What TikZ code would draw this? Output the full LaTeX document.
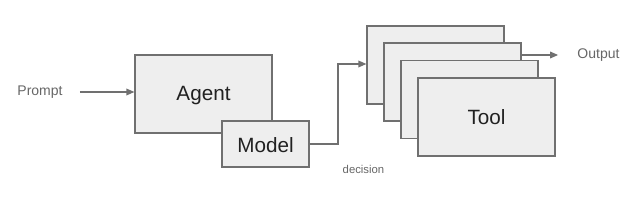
\documentclass[tikz,border=0pt]{standalone}
\usepackage{fontspec}
\setmainfont{Liberation Sans}
\usetikzlibrary{arrows.meta}
\definecolor{boxfill}{HTML}{EEEEEE}
\definecolor{boxline}{HTML}{707070}
\definecolor{lbl}{HTML}{666666}
\definecolor{dark}{HTML}{212121}
\begin{document}
\begin{tikzpicture}[x=0.75pt,y=-0.75pt,
  blk/.style={draw=boxline,fill=boxfill,line width=0.9pt,inner sep=0pt},
  toolbox/.style={blk,minimum width=137*0.75pt,minimum height=78*0.75pt},
  big/.style={text=dark,font=\fontsize{15.5}{18}\selectfont},
  small/.style={text=lbl,font=\fontsize{10.5}{13}\selectfont},
  tiny/.style={text=lbl,font=\fontsize{8.5}{10}\selectfont},
  conn/.style={draw=boxline,line width=0.9pt},
  arr/.style={conn,-{Triangle[length=6pt,width=5pt]}}]
\useasboundingbox (0,0) rectangle (642,209);
% Agent and Model
\node[toolbox] (agent) at (203.5,94) {};
\node[big] (agentt) at (203.5,96) {Agent};
\node[blk,minimum width=87*0.75pt,minimum height=46*0.75pt] (model) at (265.5,144) {};
\node[big] (modelt) at (265.5,145) {Model};
% Tool stack
\node[toolbox] (t1) at (435.5,65) {};
\node[toolbox] (t2) at (452.5,82) {};
\node[toolbox] (t3) at (469.5,99.5) {};
\node[toolbox] (t4) at (486.5,117) {};
\node[big] (toolt) at (486.5,117) {Tool};
% labels
\node[small] (prompt) at (40,92) {Prompt};
\node[small] (output) at (598.5,55) {Output};
\node[tiny] (decision) at (363.5,169) {decision};
\coordinate (bend1) at (338,144);
\coordinate (bend2) at (338,64);
% connectors
\draw[arr] ([xshift=9.5pt]prompt.east) -- (agent.west |- prompt.east);
\draw[arr] (model.east |- bend1) -- (bend1) -- (bend2) -- (t1.west |- bend2);
\draw[arr] (t2.east |- output.west) -- ([xshift=-11pt]output.west);
\end{tikzpicture}
\end{document}
